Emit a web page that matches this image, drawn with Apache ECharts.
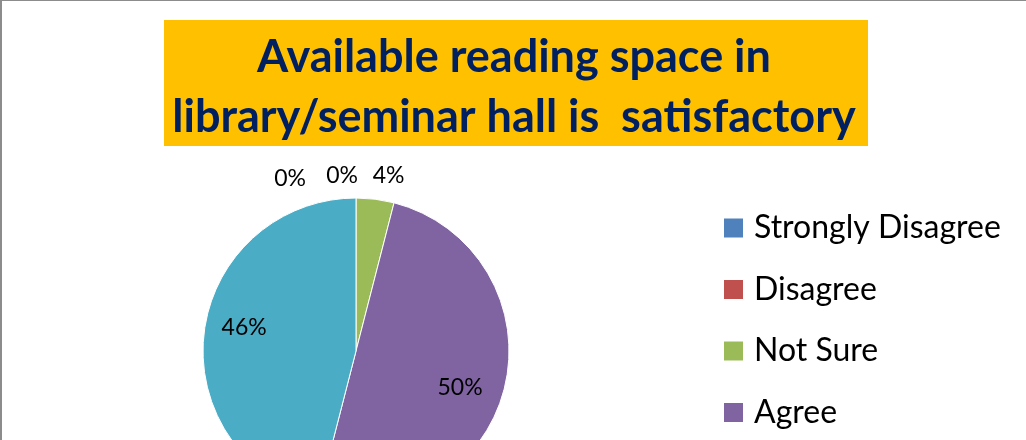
<!DOCTYPE html>
<html>
<head>
<meta charset="utf-8">
<script src="https://cdn.jsdelivr.net/npm/echarts@6/dist/echarts.min.js"></script>
<style>
  html, body { margin: 0; padding: 0; background: #fff; }
  #chart {
    width: 1026px; height: 440px; box-sizing: border-box;
    border-top: 1px solid #8c8c8c; border-left: 2px solid #8c8c8c;
  }
</style>
</head>
<body>
<div id="chart"></div>
<script>
const categories = ['Strongly Disagree', 'Disagree', 'Not Sure', 'Agree', 'Strongly Agree']
const percents = [0, 0, 4, 50, 46]
const colors = ['#4F81BD', '#C0504D', '#9BBB59', '#8064A2', '#4BACC6']

// label tweaks to mimic the Excel placement
const labelTweaks = [
  { position: 'outside', offset: [-45, 1] },
  { position: 'outside', offset: [7, -2] },
  { position: 'outside', offset: [-10, -4] },
  { position: 'inside', offset: [27, 17] },
  { position: 'inside', offset: [-33, -13] }
]

const chart = echarts.init(document.getElementById('chart'))

chart.setOption({
  animation: false,
  title: {
    text: 'Available reading space in\nlibrary/seminar hall is  satisfactory',
    left: 'center',
    top: 21,
    textStyle: {
      fontFamily: 'Lato',
      fontWeight: 'bold',
      fontSize: 45,
      lineHeight: 60,
      color: '#002060'
    }
  },
  graphic: [{
    type: 'rect',
    left: 162,
    top: 19,
    z: -1,
    shape: { width: 704, height: 126 },
    style: { fill: '#FFC000' }
  }],
  legend: {
    orient: 'vertical',
    left: 720,
    top: 211,
    height: 330,
    padding: 0,
    icon: 'rect',
    itemWidth: 21,
    itemHeight: 21,
    itemGap: 29.5,
    data: categories,
    textStyle: {
      fontFamily: 'Lato',
      fontSize: 32,
      lineHeight: 30,
      color: '#000',
      padding: [0, 0, 0, 5]
    }
  },
  series: [{
    type: 'pie',
    center: [354, 350],
    radius: [0, 153],
    startAngle: 90,
    clockwise: true,
    avoidLabelOverlap: false,
    silent: true,
    itemStyle: { borderColor: '#fff', borderWidth: 1 },
    label: {
      fontFamily: 'Lato',
      fontSize: 23,
      color: '#000',
      formatter: '{c}%'
    },
    labelLine: { show: false, length: 20, length2: 0 },
    data: categories.map((name, i) => ({
      name: name,
      value: percents[i],
      itemStyle: { color: colors[i] },
      label: labelTweaks[i]
    }))
  }]
})
</script>
</body>
</html>
